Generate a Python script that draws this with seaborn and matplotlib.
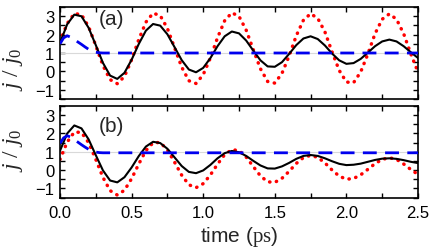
import numpy as np
import pandas as pd
import matplotlib
matplotlib.use("Agg")
import matplotlib.pyplot as plt
from matplotlib.ticker import MultipleLocator
import seaborn as sns

# ---- data ----
t_grid = [round(0.05 * i, 2) for i in range(51)]

black_a = [1.55, 2.56, 3.09, 3.00, 2.37, 1.43, 0.46, -0.23, -0.41, -0.08,
           0.63, 1.49, 2.22, 2.58, 2.49, 2.02, 1.32, 0.61, 0.10, -0.05,
           0.19, 0.72, 1.37, 1.91, 2.17, 2.07, 1.68, 1.13, 0.60, 0.27,
           0.25, 0.50, 0.95, 1.43, 1.79, 1.91, 1.76, 1.41, 0.97, 0.60,
           0.41, 0.45, 0.68, 1.02, 1.37, 1.63, 1.73, 1.63, 1.37, 1.04,
           0.73]
red_a = [1.62, 2.60, 3.15, 3.09, 2.43, 1.40, 0.32, -0.45, -0.67, -0.28,
         0.63, 1.73, 2.68, 3.17, 3.04, 2.34, 1.29, 0.23, -0.51, -0.66,
         -0.18, 0.73, 1.83, 2.76, 3.19, 3.00, 2.25, 1.18, 0.14, -0.55,
         -0.64, -0.11, 0.84, 1.94, 2.79, 3.14, 2.89, 2.15, 1.06, 0.05,
         -0.58, -0.62, -0.03, 0.95, 2.05, 2.84, 3.13, 2.84, 2.05, 0.95,
         -0.04]
black_b = [1.05, 1.99, 2.43, 2.27, 1.67, 0.81, -0.02, -0.57, -0.67, -0.39,
           0.14, 0.76, 1.28, 1.54, 1.47, 1.16, 0.69, 0.22, -0.10, -0.17,
           -0.02, 0.28, 0.64, 0.92, 1.04, 0.97, 0.77, 0.50, 0.25, 0.09,
           0.08, 0.20, 0.39, 0.61, 0.77, 0.82, 0.77, 0.64, 0.48, 0.34,
           0.27, 0.29, 0.35, 0.45, 0.55, 0.62, 0.64, 0.61, 0.54, 0.45,
           0.38]
red_b = [0.58, 1.52, 2.07, 2.05, 1.49, 0.58, -0.40, -1.12, -1.36, -1.10,
         -0.47, 0.33, 1.06, 1.49, 1.50, 1.10, 0.43, -0.28, -0.80, -0.96,
         -0.74, -0.27, 0.32, 0.84, 1.11, 1.06, 0.71, 0.19, -0.32, -0.64,
         -0.67, -0.45, -0.07, 0.36, 0.68, 0.80, 0.69, 0.39, 0.00, -0.33,
         -0.50, -0.46, -0.26, 0.04, 0.35, 0.58, 0.67, 0.58, 0.33, 0.03,
         -0.24]

t_blue = [0.0, 0.025, 0.05, 0.075, 0.1, 0.125, 0.15, 0.175, 0.2, 0.225,
          0.25, 0.275, 0.3, 2.5]
blue_a = [1.50, 1.82, 1.94, 1.86, 1.74, 1.60, 1.47, 1.33, 1.20, 1.10,
          1.04, 1.01, 1.00, 1.00]
blue_b = [1.45, 1.75, 1.87, 1.80, 1.66, 1.52, 1.38, 1.25, 1.13, 1.04,
          0.98, 0.95, 0.94, 0.94]

x_major_labels = ["0.0", "0.5", "1.0", "1.5", "2.0", "2.5"]
panel_labels = ["(a)", "(b)"]

# ---- style ----
sns.set_theme(style="ticks")
plt.rcParams["font.family"] = ["Liberation Sans", "DejaVu Sans"]
plt.rcParams["mathtext.fontset"] = "custom"
plt.rcParams["mathtext.rm"] = "Liberation Serif"
plt.rcParams["mathtext.it"] = "Liberation Serif:italic"
plt.rcParams["axes.linewidth"] = 1.2

fig = plt.figure(figsize=(4.36, 2.53), dpi=100)
ax_a = fig.add_axes([0.1376, 0.6051, 0.8211, 0.3629])
ax_b = fig.add_axes([0.1376, 0.2150, 0.8211, 0.3629])

panels = [
    (ax_a, black_a, red_a, blue_a, panel_labels[0], 0.88, 0.33),
    (ax_b, black_b, red_b, blue_b, panel_labels[1], 0.78, 0.53),
]

for ax, blk, red, blu, lab, ly, ylab_y in panels:
    ax.axhline(1.0, color="#d9d9d9", lw=0.8, zorder=1)
    df_r = pd.DataFrame({"t": t_grid, "j": red})
    df_k = pd.DataFrame({"t": t_grid, "j": blk})
    df_b = pd.DataFrame({"t": t_blue, "j": blu})
    sns.lineplot(data=df_r, x="t", y="j", ax=ax, color="#ff0000", lw=2.5,
                 linestyle=(0, (0.1, 1.9)), dash_capstyle="round",
                 estimator=None, sort=False, zorder=2)
    sns.lineplot(data=df_k, x="t", y="j", ax=ax, color="black", lw=1.5,
                 estimator=None, sort=False, zorder=3)
    sns.lineplot(data=df_b, x="t", y="j", ax=ax, color="#0000ee", lw=2.0,
                 linestyle=(0, (5.0, 3.0)), estimator=None, sort=False,
                 zorder=4)
    ax.set_xlim(0, 2.5)
    ax.set_ylim(-1.5, 3.5)
    ax.xaxis.set_major_locator(MultipleLocator(0.5))
    ax.xaxis.set_minor_locator(MultipleLocator(0.25))
    ax.yaxis.set_major_locator(MultipleLocator(1))
    ax.yaxis.set_minor_locator(MultipleLocator(0.5))
    ax.tick_params(which="both", direction="in", top=True, right=True,
                   bottom=True, left=True, length=3.5, width=1.0,
                   color="black", labelsize=12, labelcolor="black")
    ax.tick_params(axis="y", pad=4)
    ax.tick_params(axis="x", pad=5)
    for s in ax.spines.values():
        s.set_visible(True)
        s.set_color("black")
    ax.set_ylabel(r"$j\ /\ j_0$", fontsize=17, va="center")
    ax.yaxis.set_label_coords(-0.13, ylab_y)
    ax.text(0.145, ly, lab, transform=ax.transAxes, fontsize=15,
            ha="center", va="center")
    ax.set_xlabel("")

ax_a.set_xticklabels([])
ax_b.set_xticks([0, 0.5, 1.0, 1.5, 2.0, 2.5])
ax_b.set_xticklabels(x_major_labels)
ax_b.set_xlabel(r"time ($\mathrm{ps}$)", fontsize=15, va="top")
ax_b.xaxis.set_label_coords(0.5, -0.29)

fig.savefig("out.png", dpi=100)
